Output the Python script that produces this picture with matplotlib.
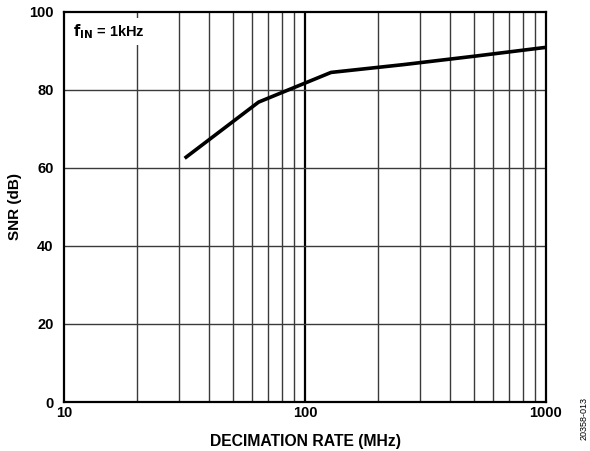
import matplotlib
matplotlib.use('Agg')
import matplotlib.pyplot as plt
import numpy as np

plt.rcParams['font.family'] = ['Liberation Sans', 'DejaVu Sans']

# decimation rate vs SNR
dec_rate = [32, 64, 128, 256, 512, 1024]
snr_db = [62.7, 76.8, 84.4, 86.4, 88.6, 90.9]

xticks = [10, 100, 1000]
yticks = [0, 20, 40, 60, 80, 100]

fig = plt.figure(figsize=(5.9, 4.51), dpi=100)
ax = fig.add_axes([0.1093, 0.1086, 0.8161, 0.8659])

ax.set_xscale('log')
ax.set_xlim(10, 1000)
ax.set_ylim(0, 100)

# grid: every minor decade line + horizontal lines
for dec in [10, 100]:
    for m in range(2, 10):
        ax.axvline(dec * m, color='#3a3a3a', lw=1.0, zorder=1)
ax.axvline(100, color='black', lw=1.6, zorder=1)
for y in yticks[1:-1]:
    ax.axhline(y, color='#3a3a3a', lw=1.0, zorder=1)

ax.plot(dec_rate, snr_db, color='black', lw=2.6, zorder=3, clip_on=True)

ax.set_xticks(xticks)
ax.set_xticklabels([str(v) for v in xticks], fontweight='bold', fontsize=10.5)
ax.set_xticks([], minor=True)
ax.set_yticks(yticks)
ax.set_yticklabels([str(v) for v in yticks], fontweight='bold', fontsize=10.5)
ax.tick_params(axis='x', length=0, pad=3)
ax.tick_params(axis='y', length=0, pad=8)

for s in ax.spines.values():
    s.set_linewidth(1.6)
    s.set_zorder(4)

ax.set_xlabel('DECIMATION RATE (MHz)', fontweight='bold', fontsize=11.3, labelpad=10)
ax.set_ylabel('SNR (dB)', fontweight='bold', fontsize=11, labelpad=5)

ax.text(0.017, 0.972, r'$\mathbf{f_{IN}}$' + ' = 1kHz', transform=ax.transAxes,
        ha='left', va='top', fontsize=10.5, fontweight='bold', zorder=5,
        bbox=dict(facecolor='white', edgecolor='none', pad=3))

fig.text(0.998, 0.024, '20358-013', rotation=90, fontsize=6.5, ha='right', va='bottom')

fig.savefig('out.png', dpi=100)
